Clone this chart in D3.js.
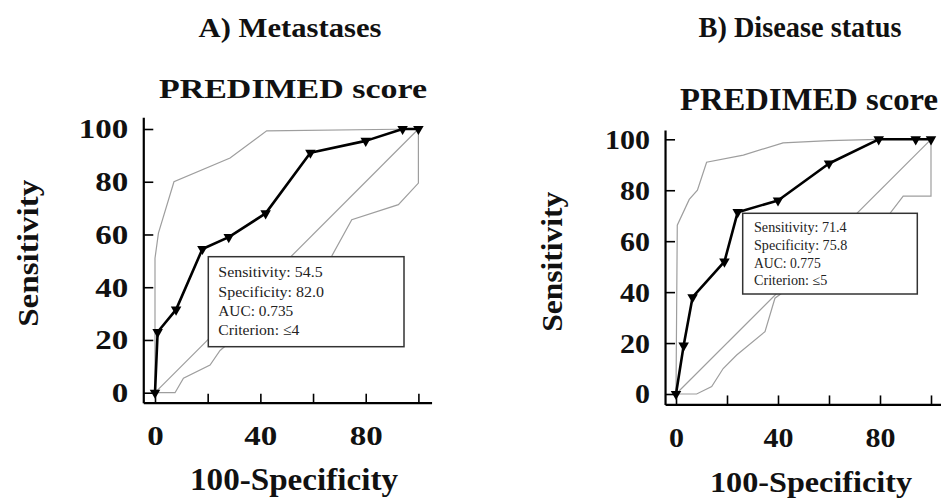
<!DOCTYPE html>
<html>
<head>
<meta charset="utf-8">
<script src="https://cdn.jsdelivr.net/npm/d3@7"></script>
<style>
  html, body { margin: 0; padding: 0; background: #fff; }
  svg { display: block; }
  text { font-family: "Liberation Serif", "Times New Roman", serif; fill: #111; }
</style>
</head>
<body>
<div id="chart"></div>
<script>
// ROC curves (100-Specificity, Sensitivity)
const rocA = [[0, 0], [1, 23], [8, 31.5], [18, 54.5], [28, 59], [42, 68], [59, 91], [80, 95.5], [94, 100], [100, 100]];
const upperA = [[0, 0], [0, 51], [1.3, 60.5], [7.2, 80], [28.5, 89], [42.4, 99.3], [100, 100]];
const lowerA = [[0, 0], [7.6, 0], [10.8, 5.5], [20.9, 10.5], [24.7, 16], [67.1, 51.8], [74.7, 65.6], [92.4, 71.3], [100, 79.5], [100, 100]];

const rocB = [[0, 0], [3, 19], [6.5, 38], [19, 52], [24.2, 71.4], [40, 76], [60, 90.5], [79.5, 100], [94, 100], [100, 100]];
const upperB = [[0, 0], [0.5, 66.3], [5.2, 76.4], [8.4, 80], [12, 91], [26.4, 93.8], [42, 98.6], [60, 99.5], [79.5, 100], [100, 100]];
const lowerB = [[0, 0], [8.1, 0], [14, 2.9], [18.5, 10], [23.8, 15.3], [34.9, 24.5], [38.8, 37.6], [84, 71], [89.1, 77.7], [100, 77.7], [100, 100]];

const diagonal = [[0, 0], [100, 100]];
const majorTicks = [0, 20, 40, 60, 80, 100];
const minorTicks = d3.range(0, 101, 5);
const xLabelTicks = [0, 40, 80];

const statsA = ["Sensitivity: 54.5", "Specificity:  82.0", "AUC: 0.735", "Criterion:  \u22644"];
const statsB = ["Sensitivity: 71.4", "Specificity:  75.8", "AUC: 0.775", "Criterion:  \u22645"];

const width = 941, height = 501;

const svg = d3.select("#chart").append("svg")
  .attr("width", width)
  .attr("height", height);

// stretched text helper (the original picture is scaled unevenly)
function label(g, txt, x, y, size, len, opts = {}) {
  const t = g.append("text")
    .attr("x", x)
    .attr("y", y)
    .attr("text-anchor", opts.anchor || "middle")
    .style("font-size", size + "px")
    .style("font-weight", opts.weight || "bold")
    .text(txt);
  if (len) t.attr("textLength", len).attr("lengthAdjust", "spacingAndGlyphs");
  if (opts.transform) t.attr("transform", opts.transform);
  return t;
}

function drawPanel(p) {
  const g = svg.append("g");
  const x = d3.scaleLinear().domain([0, 100]).range(p.xRange);
  const y = d3.scaleLinear().domain([0, 100]).range(p.yRange);

  const xAxisScale = d3.scaleLinear().domain(p.xExtent).range(p.xExtent.map(x));
  const yAxisScale = d3.scaleLinear().domain(p.yExtent).range(p.yExtent.map(y));
  const axisY = y(p.yExtent[0]);
  const axisX = x(p.xExtent[0]);

  const line = d3.line().x(d => x(d[0])).y(d => y(d[1]));

  // confidence bands and reference diagonal
  [p.upper, p.lower, diagonal].forEach(d => {
    g.append("path")
      .datum(d)
      .attr("d", line)
      .attr("fill", "none")
      .attr("stroke", "#9e9e9e")
      .attr("stroke-width", 1.2);
  });

  // criterion box
  g.append("rect")
    .attr("x", p.box.x)
    .attr("y", p.box.y)
    .attr("width", p.box.w)
    .attr("height", p.box.h)
    .attr("fill", "#fff")
    .attr("stroke", "#333")
    .attr("stroke-width", 1.5);

  p.stats.forEach((s, i) => {
    label(g, s, p.box.tx, p.box.ty + i * p.box.dy, p.box.fs, p.box.lens[i], { anchor: "start", weight: "normal" })
      .style("fill", "#222");
  });

  // ROC curve
  g.append("path")
    .datum(p.roc)
    .attr("d", line)
    .attr("fill", "none")
    .attr("stroke", "#000")
    .attr("stroke-width", 2.6)
    .attr("stroke-linejoin", "round");

  g.selectAll(".pt")
    .data(p.roc)
    .enter().append("path")
    .attr("class", "pt")
    .attr("d", d3.symbol().type(d3.symbolTriangle).size(48))
    .attr("transform", d => `translate(${x(d[0])},${y(d[1])}) rotate(180)`)
    .attr("fill", "#000");

  // x axis: minor then major
  const gx = g.append("g").attr("transform", `translate(0,${axisY})`);
  gx.call(d3.axisBottom(xAxisScale).tickValues(minorTicks).tickSize(-5).tickSizeOuter(0).tickFormat(""));
  gx.call(d3.axisBottom(xAxisScale).tickValues(majorTicks).tickSize(-9).tickSizeOuter(0)
    .tickPadding(22.4).tickFormat(d => xLabelTicks.includes(d) ? d : ""));

  // y axis
  const gy = g.append("g").attr("transform", `translate(${axisX},0)`);
  gy.call(d3.axisLeft(yAxisScale).tickValues(minorTicks).tickSize(-5).tickSizeOuter(0).tickFormat(""));
  gy.call(d3.axisLeft(yAxisScale).tickValues(majorTicks).tickSize(-10).tickSizeOuter(0)
    .tickPadding(15));

  [gx, gy].forEach(a => {
    a.selectAll(".domain").attr("stroke", "#000").attr("stroke-width", 2.2);
    a.selectAll(".tick line").attr("stroke", "#000").attr("stroke-width", 1.6);
    a.selectAll(".tick text")
      .style("font-family", "'Liberation Serif', 'Times New Roman', serif")
      .style("font-size", "28px")
      .style("font-weight", "bold")
      .attr("fill", "#111")
      .each(function () {
        const n = this.textContent.length;
        if (n) d3.select(this).attr("textLength", n * p.digitW).attr("lengthAdjust", "spacingAndGlyphs");
      });
  });

  // titles and axis labels
  label(g, p.title, p.titlePos[0], p.titlePos[1], p.titlePos[2], p.titlePos[3]);
  label(g, "PREDIMED score", p.subPos[0], p.subPos[1], p.subPos[2], p.subPos[3]);
  label(g, "100-Specificity", 0, 0, p.xLab[2], p.xLab[3], { transform: `translate(${p.xLab[0]},${p.xLab[1]})` });
  label(g, "Sensitivity", 0, 0, p.yLab[2], p.yLab[3], { transform: `translate(${p.yLab[0]},${p.yLab[1]}) rotate(-90)` });
}

drawPanel({
  roc: rocA, upper: upperA, lower: lowerA, stats: statsA,
  xRange: [155, 418.4], yRange: [392.7, 129],
  xExtent: [-4.45, 105], yExtent: [-3.8, 104.5],
  digitW: 16.5,
  box: { x: 208.3, y: 256.7, w: 195.7, h: 90, tx: 218.3, ty: 277.3, dy: 19.2, fs: 15.5, lens: [104.3, 105.7, 75, 81] },
  title: "A) Metastases", titlePos: [290, 36.7, 27.5, 183],
  subPos: [293, 98.3, 27.7, 268],
  xLab: [294, 490, 31, 208],
  yLab: [38.3, 253.3, 30, 147]
});

drawPanel({
  roc: rocB, upper: upperB, lower: lowerB, stats: statsB,
  xRange: [676, 931], yRange: [394, 139.3],
  xExtent: [-4.3, 106], yExtent: [-4.1, 103.7],
  digitW: 15,
  box: { x: 742.7, y: 213.3, w: 174.6, h: 80.7, tx: 754, ty: 232.3, dy: 17.6, fs: 13.7, lens: [92.7, 93.3, 66.7, 73.3] },
  title: "B) Disease status", titlePos: [800, 36.7, 29, 203],
  subPos: [809, 110, 30.5, 258],
  xLab: [811, 491.7, 30, 202],
  yLab: [561.7, 261.7, 30, 140]
});
</script>
</body>
</html>
